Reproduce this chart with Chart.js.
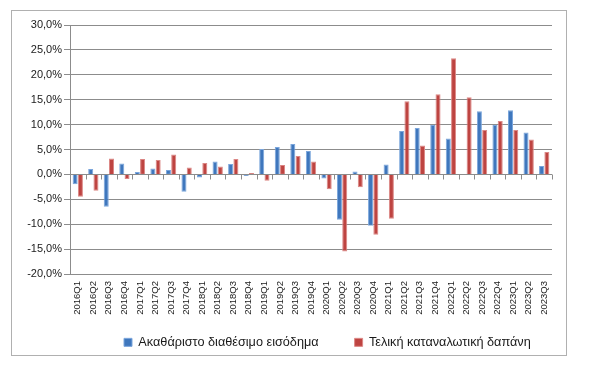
<!DOCTYPE html>
<html>
<head>
<meta charset="utf-8">
<script src="https://cdn.jsdelivr.net/npm/chart.js@4"></script>
<style>
    body { margin: 0; background: #fff; }
    #box {
        position: absolute;
        left: 11px;
        top: 10px;
        width: 554px;
        height: 344px;
        border: 1px solid #b0b0b0;
    }
</style>
</head>
<body>
<div id="box"><canvas id="chart" width="554" height="344"></canvas></div>
<script>
// Квартали
const quarters = [
    "2016Q1", "2016Q2", "2016Q3", "2016Q4",
    "2017Q1", "2017Q2", "2017Q3", "2017Q4",
    "2018Q1", "2018Q2", "2018Q3", "2018Q4",
    "2019Q1", "2019Q2", "2019Q3", "2019Q4",
    "2020Q1", "2020Q2", "2020Q3", "2020Q4",
    "2021Q1", "2021Q2", "2021Q3", "2021Q4",
    "2022Q1", "2022Q2", "2022Q3", "2022Q4",
    "2023Q1", "2023Q2", "2023Q3"
];

// Ακαθάριστο διαθέσιμο εισόδημα (%)
const income = [
    -2.0, 1.1, -6.5, 2.2,
    0.5, 1.2, 0.9, -3.5,
    -0.6, 2.6, 2.1, -0.3,
    5.1, 5.5, 6.1, 4.7,
    -0.8, -9.1, 0.6, -10.3,
    2.0, 8.7, 9.3, 9.9,
    7.2, 0.0, 12.7, 9.9,
    12.9, 8.4, 1.7
];

// Τελική καταναλωτική δαπάνη (%)
const consumption = [
    -4.5, -3.3, 3.2, -0.9,
    3.1, 2.9, 4.0, 1.4,
    2.3, 1.6, 3.1, 0.3,
    -1.3, 1.9, 3.7, 2.6,
    -3.0, -15.5, -2.6, -12.1,
    -8.9, 14.7, 5.8, 16.1,
    23.3, 15.5, 8.9, 10.7,
    8.9, 7.0, 4.5
];

const yMin = -20;
const yMax = 30;
const yStep = 5;

// Короткі риски на нульовій лінії між кварталами
const zeroTicks = {
    id: "zeroTicks",
    afterLayout(chart) {
        // легенда: відступ 36 між пунктами, але низько і трохи правіше, як в оригіналі
        const lg = chart.legend;
        const dx = 76 - lg.left;
        lg.left += dx;
        lg.right += dx;
        lg.top = 289;
    },
    afterDatasetsDraw(chart) {
        const x = chart.scales.x;
        const y0 = Math.round(chart.scales.y.getPixelForValue(0)) + 0.5;
        const ctx = chart.ctx;
        ctx.save();
        ctx.strokeStyle = "#8c8c8c";
        ctx.lineWidth = 1;
        ctx.beginPath();
        ctx.moveTo(chart.chartArea.left, y0);
        ctx.lineTo(chart.chartArea.right, y0);
        for (let i = 0; i <= quarters.length; i++) {
            let px;
            if (i === 0) px = chart.chartArea.left;
            else if (i === quarters.length) px = chart.chartArea.right;
            else px = (x.getPixelForValue(i - 1) + x.getPixelForValue(i)) / 2;
            px = Math.round(px) + 0.5;
            ctx.moveTo(px, y0);
            ctx.lineTo(px, y0 + 5);
        }
        ctx.stroke();
        ctx.restore();
    }
};

const ctx = document.getElementById("chart").getContext("2d");
new Chart(ctx, {
    type: "bar",
    data: {
        labels: quarters,
        datasets: [
            {
                label: "Ακαθάριστο διαθέσιμο εισόδημα",
                data: income,
                backgroundColor: "#3f77bd",
                borderColor: "#7ba6dc",
                borderWidth: 1,
                categoryPercentage: 0.68,
                barPercentage: 0.95
            },
            {
                label: "Τελική καταναλωτική δαπάνη",
                data: consumption,
                backgroundColor: "#be4441",
                borderColor: "#dc8886",
                borderWidth: 1,
                categoryPercentage: 0.68,
                barPercentage: 0.95
            }
        ]
    },
    options: {
        responsive: false,
        animation: false,
        layout: {
            padding: {left: 0, right: 14, top: 14, bottom: 0}
        },
        plugins: {
            legend: {
                position: "bottom",
                align: "start",
                maxHeight: 31,
                labels: {
                    boxWidth: 8,
                    boxHeight: 8,
                    padding: 36,
                    color: "#1a1a1a",
                    font: {family: "Liberation Sans", size: 12.7}
                }
            },
            tooltip: {enabled: false}
        },
        scales: {
            x: {
                grid: {display: false, drawTicks: false},
                border: {display: false},
                ticks: {
                    minRotation: 90,
                    maxRotation: 90,
                    autoSkip: false,
                    padding: 7,
                    color: "#1a1a1a",
                    font: {family: "Liberation Sans", size: 9.5}
                },
                afterFit(scale) {
                    scale.height = 50;
                }
            },
            y: {
                min: yMin,
                max: yMax,
                grid: {
                    color: "#8c8c8c",
                    tickLength: 6,
                    drawTicks: true
                },
                border: {display: true, color: "#8c8c8c"},
                ticks: {
                    stepSize: yStep,
                    padding: 2,
                    color: "#1a1a1a",
                    font: {family: "Liberation Sans", size: 11},
                    callback: function (value) {
                        return value.toFixed(1).replace(".", ",") + "%";
                    }
                },
                afterFit(scale) {
                    scale.width = 58;
                }
            }
        }
    },
    plugins: [zeroTicks]
});
</script>
</body>
</html>
